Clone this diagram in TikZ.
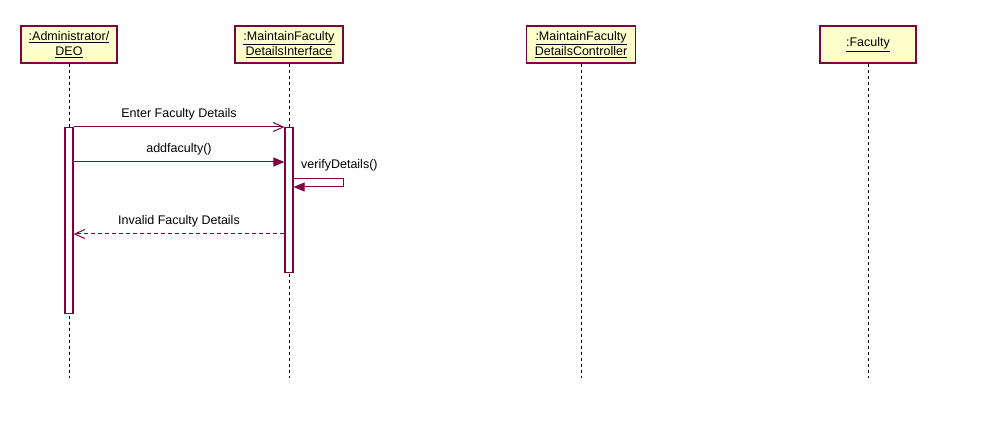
\documentclass[tikz,border=0pt]{standalone}
\usepackage{fontspec}
\setmainfont{Liberation Sans}
\usetikzlibrary{arrows.meta}
\definecolor{umlline}{HTML}{800040}
\definecolor{umlfill}{HTML}{FFFFCC}
\begin{document}
\begin{tikzpicture}[x=1pt,y=-1pt,
  obj/.style={draw=umlline, fill=umlfill, line width=1.2pt, rectangle, inner sep=0pt,
    minimum height=37pt, align=center, font=\fontsize{12.5}{15}\selectfont},
  lifeline/.style={draw=black, line width=1pt, dash pattern=on 3pt off 3pt},
  act/.style={draw=umlline, fill=white, line width=1.2pt, minimum width=8pt,
    inner sep=0pt, anchor=north},
  msg/.style={draw=umlline, line width=1pt},
  reply/.style={msg, dash pattern=on 4pt off 3pt},
  opentip/.style={-{Straight Barb[length=10pt,width=9pt]}},
  filltip/.style={-{Triangle[length=11pt,width=9pt]}},
  lbl/.style={font=\fontsize{12.5}{15}\selectfont, inner sep=0pt},
]
\useasboundingbox (0,0) rectangle (999,438);

% object boxes
\node[obj, minimum width=96pt]  (admin) at (69,44.5)  {\underline{:Administrator/}\\\underline{DEO}};
\node[obj, minimum width=108pt] (ui)    at (289,44.5) {\underline{:MaintainFaculty}\\\underline{DetailsInterface}};
\node[obj, minimum width=109pt] (ctrl)  at (581,44.5) {\underline{:MaintainFaculty}\\\underline{DetailsController}};
\node[obj, minimum width=96pt]  (fac)   at (868,44.5) {\underline{:Faculty}};

% lifelines
\coordinate (adminEnd) at (69,378);
\coordinate (uiEnd)    at (289,378);
\coordinate (ctrlEnd)  at (581,378);
\coordinate (facEnd)   at (868,378);
\draw[lifeline] (admin.south) -- (adminEnd);
\draw[lifeline] (ui.south) -- (uiEnd);
\draw[lifeline] (ctrl.south) -- (ctrlEnd);
\draw[lifeline] (fac.south) -- (facEnd);

% activation bars
\node[act, minimum height=186pt] (actA) at (69,127) {};
\node[act, minimum height=145pt] (actU) at (289,127) {};

% messages
\draw[msg, opentip] (actA.east |- 0,127) -- (actU.west |- 0,127)
  node[lbl, midway, anchor=base, yshift=9pt] {Enter Faculty Details};
\draw[msg, filltip] (actA.east |- 0,162) -- (actU.west |- 0,162)
  node[lbl, midway, anchor=base, yshift=9pt] {addfaculty()};

% self call
\coordinate (loopR) at (343,183);
\draw[msg, filltip] (actU.east |- 0,179) -- (loopR |- 0,179) -- (loopR |- 0,187) -- (actU.east |- 0,187);
\node[lbl, anchor=base west] (verify) at (301,169) {verifyDetails()};

% reply
\draw[reply, opentip] (actU.west |- 0,234) -- (actA.east |- 0,234)
  node[lbl, midway, anchor=base, yshift=9pt] {Invalid Faculty Details};
\end{tikzpicture}
\end{document}
